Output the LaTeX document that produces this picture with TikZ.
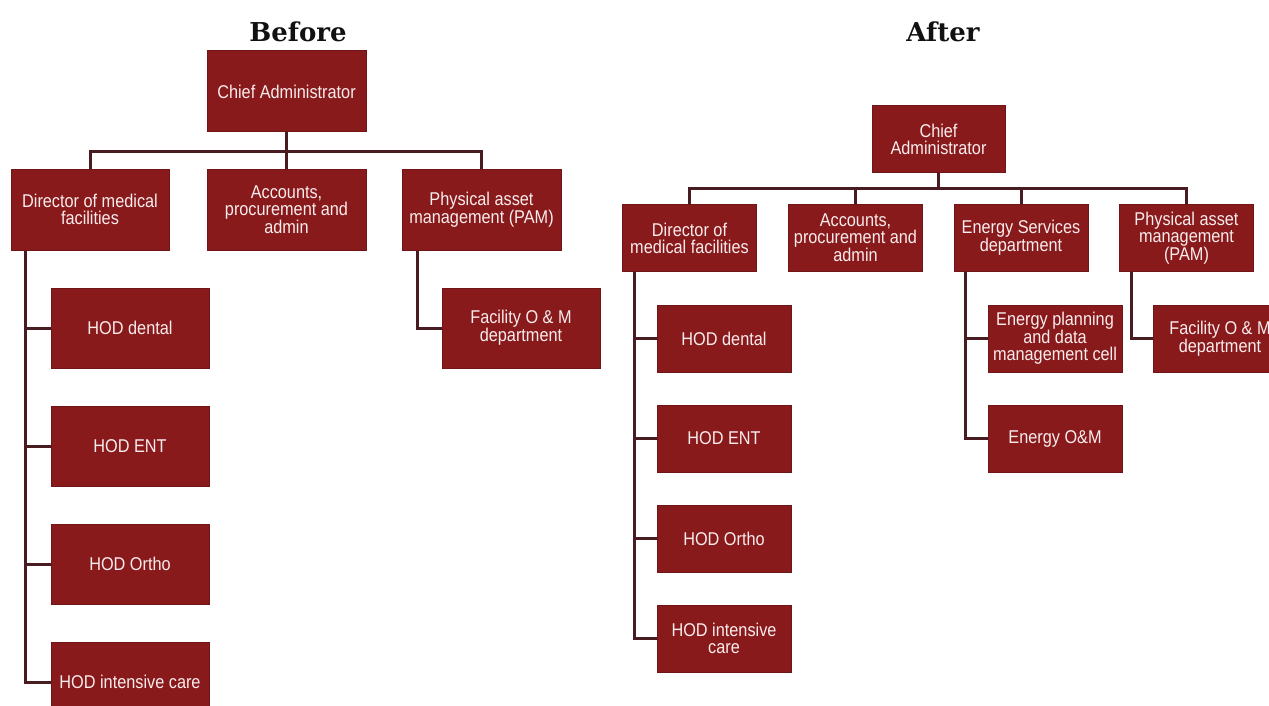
\documentclass[tikz,border=0pt]{standalone}
\usepackage{fontspec}
\setmainfont{Liberation Sans}
\newfontfamily\boxfont[FakeStretch=0.88]{Liberation Sans}
\newfontfamily\titlefont{DejaVu Serif}

\definecolor{boxfill}{RGB}{136,26,28}
\definecolor{boxline}{RGB}{112,22,24}
\definecolor{linkcol}{RGB}{72,28,32}
\definecolor{boxtext}{RGB}{250,236,236}
\definecolor{titlecol}{RGB}{17,17,17}

\tikzset{
  orgbox/.style={rectangle, fill=boxfill, draw=boxline, line width=1pt,
    inner sep=0pt, align=center, text=boxtext,
    font={\boxfont\fontsize{18.5}{17}\selectfont}},
  boxB/.style={orgbox, minimum width=158pt, minimum height=80pt},
  boxA/.style={orgbox, minimum width=134pt, minimum height=67pt},
  link/.style={draw=linkcol, line width=3pt, line join=miter},
  heading/.style={font={\titlefont\bfseries\fontsize{26}{30}\selectfont}, text=titlecol, inner sep=0pt}
}

\begin{document}
\begin{tikzpicture}[x=1pt,y=-1pt]
\path[use as bounding box, clip] (0,0) rectangle (1269,706);
\fill[white] (0,0) rectangle (1269,706);

% ---------------- Before ----------------
\node[heading] (titleB) at (298,32) {Before};

\node[boxB, minimum width=159pt, minimum height=81pt] (chiefB) at (286.5,91.5) {Chief Administrator};
\node[boxB, minimum height=81pt] (dirB) at (90,209.5) {Director of medical\\facilities};
\node[boxB, minimum width=159pt, minimum height=81pt] (accB) at (286.5,209.5) {Accounts,\\procurement and\\admin};
\node[boxB, minimum width=159pt, minimum height=81pt] (pamB) at (481.5,209.5) {Physical asset\\management (PAM)};

\node[boxB] (hod1B) at (130,328) {HOD dental};
\node[boxB] (hod2B) at (130,446) {HOD ENT};
\node[boxB] (hod3B) at (130,564) {HOD Ortho};
\node[boxB] (hod4B) at (130,682) {HOD intensive care};

\node[boxB] (facB) at (521,328) {Facility O \& M\\department};

\coordinate (busB) at (0,152);
\coordinate (spineB) at ([xshift=15pt]dirB.south west);
\coordinate (spinePB) at ([xshift=16pt]pamB.south west);

\draw[link] (chiefB.south) -- (accB.north);
\draw[link] (dirB.north) -- (dirB.north |- busB) -- (pamB.north |- busB) -- (pamB.north);
\draw[link] (spineB) |- (hod4B.west);
\draw[link] (spineB |- hod1B.west) -- (hod1B.west);
\draw[link] (spineB |- hod2B.west) -- (hod2B.west);
\draw[link] (spineB |- hod3B.west) -- (hod3B.west);
\draw[link] (spinePB) |- (facB.west);

% ---------------- After ----------------
\node[heading] (titleA) at (943,32) {After};

\node[boxA, minimum width=133pt] (chiefA) at (938.5,139) {Chief\\Administrator};
\node[boxA] (dirA) at (689.5,238) {Director of\\medical facilities};
\node[boxA] (accA) at (855.5,238) {Accounts,\\procurement and\\admin};
\node[boxA] (enA) at (1021,238) {Energy Services\\department};
\node[boxA] (pamA) at (1186.5,238) {Physical asset\\management\\(PAM)};

\node[boxA] (hod1A) at (724,338.5) {HOD dental};
\node[boxA] (hod2A) at (724,438.5) {HOD ENT};
\node[boxA] (hod3A) at (724,538.5) {HOD Ortho};
\node[boxA] (hod4A) at (724,638.5) {HOD intensive\\care};

\node[boxA] (en1A) at (1055,338.5) {Energy planning\\and data\\management cell};
\node[boxA] (en2A) at (1055,438.5) {Energy O\&M};

\node[boxA] (facA) at (1220,338.5) {Facility O \& M\\department};

\coordinate (busA) at (0,188);
\coordinate (spineA) at ([xshift=12pt]dirA.south west);
\coordinate (spineEA) at ([xshift=12pt]enA.south west);
\coordinate (spinePA) at ([xshift=12pt]pamA.south west);

\draw[link] (chiefA.south) -- (chiefA.south |- busA);
\draw[link] (dirA.north) -- (dirA.north |- busA) -- (pamA.north |- busA) -- (pamA.north);
\draw[link] (accA.north |- busA) -- (accA.north);
\draw[link] (enA.north |- busA) -- (enA.north);
\draw[link] (spineA) |- (hod4A.west);
\draw[link] (spineA |- hod1A.west) -- (hod1A.west);
\draw[link] (spineA |- hod2A.west) -- (hod2A.west);
\draw[link] (spineA |- hod3A.west) -- (hod3A.west);
\draw[link] (spineEA) |- (en2A.west);
\draw[link] (spineEA |- en1A.west) -- (en1A.west);
\draw[link] (spinePA) |- (facA.west);
\end{tikzpicture}
\end{document}
